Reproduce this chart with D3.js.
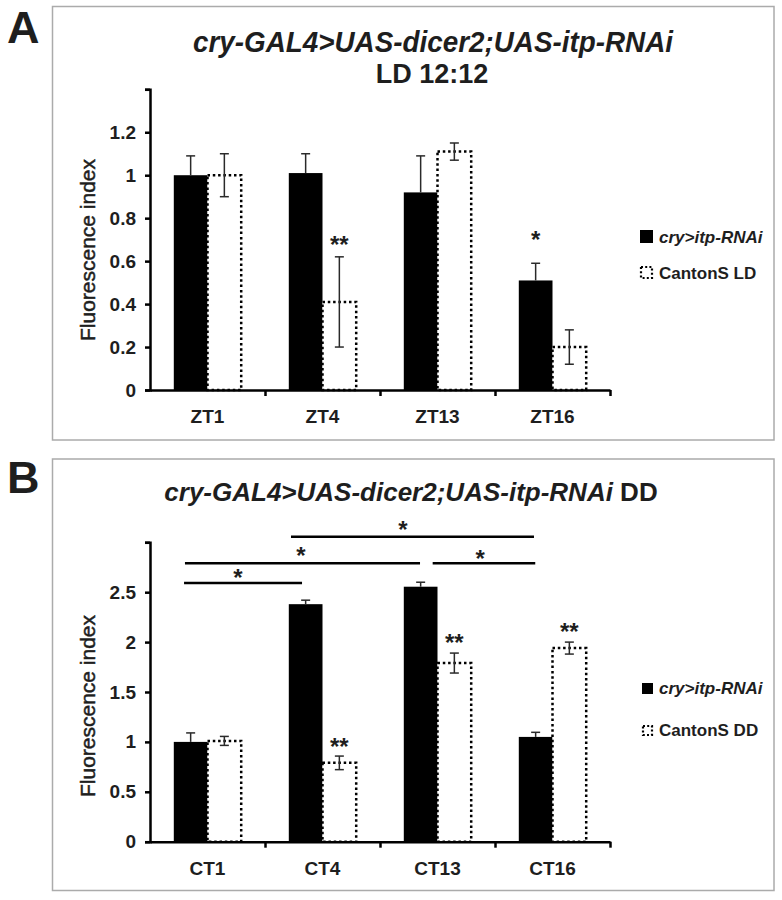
<!DOCTYPE html>
<html>
<head>
<meta charset="utf-8">
<script src="https://cdn.jsdelivr.net/npm/d3@7"></script>
<style>
  body { margin: 0; background: #fff; }
  text { font-family: "Liberation Sans", Arial, sans-serif; fill: #1e1e1e; }
</style>
</head>
<body>
<svg id="chart" width="782" height="900"></svg>
<script>
// panel A : LD 12:12
const catsA = ["ZT1", "ZT4", "ZT13", "ZT16"];
const rnaiA = [1.0, 1.01, 0.92, 0.51];
const rnaiErrA = [0.09, 0.09, 0.17, 0.08];
const cantonA = [1.0, 0.41, 1.11, 0.2];
const cantonErrA = [0.1, 0.21, 0.04, 0.08];
const yTicksA = [0, 0.2, 0.4, 0.6, 0.8, 1, 1.2, 1.4];
const yLabelsA = ["0", "0.2", "0.4", "0.6", "0.8", "1", "1.2", ""];
const starsA = [
  { cat: "ZT4", ser: "canton", v: 0.705, t: "**" },
  { cat: "ZT16", ser: "rnai", v: 0.724, t: "*" }
];

// panel B : DD
const catsB = ["CT1", "CT4", "CT13", "CT16"];
const rnaiB = [1.0, 2.38, 2.555, 1.05];
const rnaiErrB = [0.09, 0.04, 0.045, 0.046];
const cantonB = [1.01, 0.79, 1.79, 1.94];
const cantonErrB = [0.045, 0.068, 0.1, 0.06];
const yTicksB = [0, 0.5, 1, 1.5, 2, 2.5, 3];
const yLabelsB = ["0", "0.5", "1", "1.5", "2", "2.5", ""];
const starsB = [
  { cat: "CT4", ser: "canton", v: 1.009, t: "**" },
  { cat: "CT13", ser: "canton", v: 2.049, t: "**" },
  { cat: "CT16", ser: "canton", v: 2.16, t: "**" }
];
// brackets: x in category units (0..4), line value, star position
const bracketsB = [
  { x0: 0.296, x1: 1.322, v: 2.592, sx: 0.765, sv: 2.705 },
  { x0: 0.304, x1: 2.348, v: 2.79, sx: 1.313, sv: 2.923 },
  { x0: 2.458, x1: 3.35, v: 2.79, sx: 2.87, sv: 2.893 },
  { x0: 1.226, x1: 3.339, v: 3.056, sx: 2.2, sv: 3.18 }
];

const series = ["rnai", "canton"];
const svg = d3.select("#chart");
const FONT = '"Liberation Sans", Arial, sans-serif';

function star(sel) {
  return sel.attr("text-anchor", "middle").attr("font-size", 24).attr("font-weight", "bold");
}

function drawPanel(o) {
  const g = svg.append("g");

  g.append("rect")
    .attr("x", 52.5).attr("y", o.frameTop)
    .attr("width", 721.5).attr("height", o.frameH)
    .attr("fill", "none").attr("stroke", "#ababab").attr("stroke-width", 1.5);

  g.append("text").attr("x", 7).attr("y", o.letterY)
    .attr("font-size", 45).attr("font-weight", "bold")
    .text(o.letter);

  o.drawTitle(g);

  const y = d3.scaleLinear().domain([0, o.yMax]).range([o.base, o.top]);
  const xCat = d3.scaleBand().domain(o.cats).range([150, 610]).padding(0);
  const xSer = d3.scaleBand().domain(series).range([0, xCat.bandwidth()])
    .paddingInner(0).paddingOuter(0.706);
  const xPos = d3.scaleLinear().domain([0, 4]).range([150, 610]);

  const rows = [];
  o.cats.forEach((c, i) => {
    rows.push({ cat: c, ser: "rnai", v: o.rnai[i], e: o.rnaiErr[i] });
    rows.push({ cat: c, ser: "canton", v: o.canton[i], e: o.cantonErr[i] });
  });
  const bx = d => xCat(d.cat) + xSer(d.ser);
  const bw = xSer.bandwidth();

  // bars
  g.append("g").selectAll("rect").data(rows).join("rect")
    .attr("x", bx).attr("y", d => y(d.v))
    .attr("width", bw).attr("height", d => y(0) - y(d.v))
    .attr("fill", d => d.ser === "rnai" ? "#000" : "#fff")
    .attr("stroke", d => d.ser === "rnai" ? "none" : "#000")
    .attr("stroke-width", 2.5)
    .attr("stroke-dasharray", "2.5 2.8");

  // error bars (the lower half of a black bar's whisker is hidden in the bar)
  const eb = g.append("g").attr("stroke", "#2a2a2a").attr("stroke-width", 1.5);
  rows.forEach(d => {
    const cx = bx(d) + bw / 2;
    const lo = d.ser === "rnai" ? d.v : d.v - d.e;
    eb.append("line").attr("x1", cx).attr("x2", cx)
      .attr("y1", y(lo)).attr("y2", y(d.v + d.e));
    const caps = d.ser === "rnai" ? [d.v + d.e] : [d.v - d.e, d.v + d.e];
    caps.forEach(v => {
      eb.append("line").attr("x1", cx - 4.5).attr("x2", cx + 4.5)
        .attr("y1", y(v)).attr("y2", y(v));
    });
  });

  // axes
  const yAxis = g.append("g").attr("transform", "translate(150,0)")
    .call(d3.axisLeft(y).tickValues(o.yTicks).tickSize(5).tickSizeOuter(5)
      .tickPadding(9).tickFormat((d, i) => o.yLabels[i]));
  const xAxis = g.append("g").attr("transform", `translate(0,${o.base})`)
    .call(d3.axisBottom(xPos).tickValues([1, 2, 3, 4]).tickSize(6)
      .tickSizeOuter(0).tickFormat(""));
  [yAxis, xAxis].forEach(a => {
    a.selectAll("path, line").attr("stroke", "#000").attr("stroke-width", 2.5);
  });
  yAxis.selectAll("text").attr("font-family", FONT).attr("font-size", 19)
    .attr("font-weight", "bold").style("fill", "#1e1e1e");

  g.append("g").selectAll("text").data(o.cats).join("text")
    .attr("x", d => xCat(d) + xCat.bandwidth() / 2).attr("y", o.base + 33)
    .attr("text-anchor", "middle").attr("font-size", 19).attr("font-weight", "bold")
    .text(d => d);

  g.append("text")
    .attr("transform", `translate(95,${o.labelY}) rotate(-90)`)
    .attr("text-anchor", "middle").attr("font-size", 21)
    .attr("stroke", "#1e1e1e").attr("stroke-width", 0.5)
    .text("Fluorescence index");

  // significance stars
  star(g.append("g").selectAll("text").data(o.stars).join("text"))
    .attr("x", d => xCat(d.cat) + xSer(d.ser) + bw / 2)
    .attr("y", d => y(d.v) + 14)
    .text(d => d.t);

  (o.brackets || []).forEach(b => {
    g.append("line").attr("x1", xPos(b.x0)).attr("x2", xPos(b.x1))
      .attr("y1", y(b.v)).attr("y2", y(b.v))
      .attr("stroke", "#000").attr("stroke-width", 2.5);
    star(g.append("text")).attr("x", xPos(b.sx)).attr("y", y(b.sv) + 14).text("*");
  });

  // legend
  const L = o.legend;
  g.append("rect").attr("x", L.x).attr("y", L.y1).attr("width", L.s).attr("height", L.s)
    .attr("fill", "#000");
  g.append("rect").attr("x", L.x + 1).attr("y", L.y2 + 1).attr("width", L.s - 2).attr("height", L.s - 2)
    .attr("fill", "#fff").attr("stroke", "#000").attr("stroke-width", 2.2)
    .attr("stroke-dasharray", "2 2.2");
  g.append("text").attr("x", 659).attr("y", L.y1 + L.s - 0.5)
    .attr("font-size", 17).attr("font-weight", "bold").attr("font-style", "italic")
    .text("cry>itp-RNAi");
  g.append("text").attr("x", 659).attr("y", L.y2 + L.s - 0.5)
    .attr("font-size", 17).attr("font-weight", "bold")
    .text(L.second);
}

drawPanel({
  letter: "A", letterY: 43, frameTop: 6.5, frameH: 433.5,
  cats: catsA, rnai: rnaiA, rnaiErr: rnaiErrA, canton: cantonA, cantonErr: cantonErrA,
  yMax: 1.4, yTicks: yTicksA, yLabels: yLabelsA, base: 390, top: 89.3,
  labelY: 250, stars: starsA,
  legend: { x: 640, y1: 230, y2: 266, s: 13, second: "CantonS LD" },
  drawTitle: g => {
    g.append("text").attr("x", 433).attr("y", 52).attr("text-anchor", "middle")
      .attr("font-size", 29).attr("font-weight", "bold").attr("font-style", "italic")
      .attr("textLength", 480).attr("lengthAdjust", "spacingAndGlyphs")
      .text("cry-GAL4>UAS-dicer2;UAS-itp-RNAi");
    g.append("text").attr("x", 432).attr("y", 83).attr("text-anchor", "middle")
      .attr("font-size", 27).attr("font-weight", "bold")
      .text("LD 12:12");
  }
});

drawPanel({
  letter: "B", letterY: 493, frameTop: 459, frameH: 431.5,
  cats: catsB, rnai: rnaiB, rnaiErr: rnaiErrB, canton: cantonB, cantonErr: cantonErrB,
  yMax: 3, yTicks: yTicksB, yLabels: yLabelsB, base: 841.7, top: 542.3,
  labelY: 706, stars: starsB, brackets: bracketsB,
  legend: { x: 642, y1: 683, y2: 725, s: 11, second: "CantonS DD" },
  drawTitle: g => {
    const t = g.append("text").attr("x", 411).attr("y", 501).attr("text-anchor", "middle")
      .attr("font-size", 26).attr("font-weight", "bold");
    t.append("tspan").attr("font-style", "italic").text("cry-GAL4>UAS-dicer2;UAS-itp-RNAi");
    t.append("tspan").text(" DD");
  }
});
</script>
</body>
</html>
